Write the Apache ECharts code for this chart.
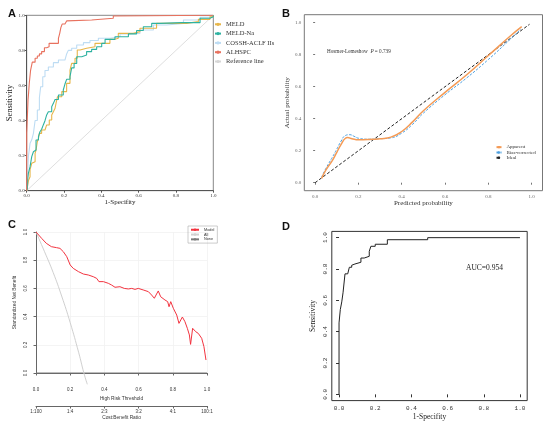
<!DOCTYPE html>
<html lang="en">
<head>
    <meta charset="utf-8">
    <title>ROC / calibration / DCA panels</title>
    <script src="https://cdn.jsdelivr.net/npm/echarts@6.0.0/dist/echarts.min.js"></script>
</head>
<body style="margin: 0; background: #fff">
    <div id="main" style="width: 550px; height: 425px"></div>
    <script type="text/javascript">

        // ---- panel A : ROC of four scores  [1-specificity, sensitivity]
        var meldRoc = [[0,0],[0.005,0.03],[0.01,0.06],[0.018,0.08],[0.018,0.12],[0.027,0.156],[0.036,0.165],[0.045,0.213],[0.05,0.232],
            [0.057,0.279],[0.063,0.298],[0.068,0.327],[0.08,0.346],[0.098,0.35],[0.107,0.375],[0.121,0.403],[0.134,0.432],[0.143,0.45],
            [0.152,0.47],[0.157,0.498],[0.161,0.517],[0.165,0.536],[0.188,0.565],[0.214,0.612],[0.232,0.688],[0.241,0.726],[0.259,0.755],
            [0.271,0.802],[0.286,0.812],[0.321,0.821],[0.366,0.84],[0.446,0.863],[0.473,0.869],[0.491,0.897],[0.571,0.907],[0.607,0.926],
            [0.696,0.954],[0.857,0.964],[0.92,0.977],[0.982,0.992],[1,1]];
        var meldNaRoc = [[0,0],[0.004,0.013],[0.005,0.06],[0.009,0.099],[0.018,0.137],[0.027,0.194],[0.036,0.222],[0.045,0.232],[0.05,0.289],
            [0.063,0.308],[0.071,0.336],[0.08,0.35],[0.089,0.375],[0.098,0.399],[0.107,0.432],[0.116,0.45],[0.134,0.479],[0.143,0.498],
            [0.152,0.52],[0.17,0.546],[0.196,0.574],[0.205,0.608],[0.214,0.635],[0.232,0.65],[0.241,0.7],[0.254,0.725],[0.268,0.764],
            [0.295,0.774],[0.321,0.793],[0.348,0.806],[0.375,0.821],[0.402,0.84],[0.42,0.863],[0.473,0.878],[0.545,0.894],[0.589,0.913],
            [0.625,0.935],[0.67,0.954],[0.714,0.958],[0.83,0.958],[0.929,0.983],[0.982,0.992],[1,1]];
        var cosshRoc = [[0,0],[0.005,0.1],[0.009,0.194],[0.018,0.27],[0.027,0.29],[0.036,0.327],[0.045,0.4],[0.057,0.46],[0.068,0.53],
            [0.075,0.593],[0.086,0.65],[0.098,0.685],[0.116,0.705],[0.143,0.73],[0.17,0.745],[0.205,0.755],[0.214,0.78],[0.223,0.8],
            [0.241,0.812],[0.268,0.831],[0.304,0.844],[0.339,0.856],[0.384,0.869],[0.446,0.878],[0.5,0.893],[0.536,0.897],[0.607,0.916],
            [0.679,0.945],[0.75,0.954],[0.84,0.973],[0.929,0.989],[0.98,0.992],[1,1]];
        var alhspcRoc = [[0,0],[0,0.327],[0.005,0.46],[0.007,0.517],[0.01,0.555],[0.014,0.615],[0.021,0.688],[0.03,0.733],[0.045,0.755],
            [0.057,0.768],[0.068,0.78],[0.08,0.793],[0.095,0.815],[0.107,0.821],[0.12,0.84],[0.17,0.869],[0.177,0.897],[0.183,0.93],
            [0.19,0.95],[0.205,0.958],[0.214,0.968],[0.223,0.973],[0.348,0.983],[0.464,0.996],[0.47,1],[1,1]];
        var referenceLine = [[0,0],[1,1]];

        // ---- panel B : calibration  [predicted, actual]
        var apparent = [[0.03,0.027],[0.05,0.08],[0.08,0.14],[0.1,0.19],[0.12,0.24],[0.14,0.278],[0.15,0.282],[0.17,0.275],[0.2,0.268],
            [0.25,0.27],[0.3,0.275],[0.35,0.285],[0.4,0.32],[0.45,0.38],[0.5,0.45],[0.6,0.565],[0.7,0.675],[0.8,0.795],[0.9,0.915],[0.954,0.975]];
        var biasCorrected = [[0.03,0.035],[0.05,0.09],[0.08,0.16],[0.1,0.21],[0.12,0.26],[0.14,0.295],[0.16,0.3],[0.18,0.29],[0.2,0.278],
            [0.25,0.272],[0.3,0.275],[0.35,0.28],[0.4,0.31],[0.45,0.365],[0.5,0.435],[0.6,0.55],[0.7,0.655],[0.8,0.77],[0.9,0.895],[0.95,0.96]];
        var ideal = [[0,0],[0.99,0.99]];

        // ---- panel C : decision curve  [threshold, standardized net benefit]
        var modelNb = [[0,1],[0.033,0.955],[0.06,0.92],[0.09,0.896],[0.12,0.889],[0.14,0.884],[0.16,0.86],[0.18,0.825],[0.2,0.766],
            [0.218,0.742],[0.248,0.719],[0.277,0.702],[0.306,0.695],[0.335,0.683],[0.355,0.671],[0.368,0.648],[0.394,0.648],[0.423,0.636],
            [0.442,0.624],[0.462,0.608],[0.491,0.612],[0.501,0.624],[0.516,0.6],[0.54,0.596],[0.56,0.6],[0.579,0.593],[0.598,0.6],
            [0.627,0.589],[0.657,0.577],[0.676,0.553],[0.692,0.53],[0.702,0.553],[0.715,0.582],[0.729,0.541],[0.754,0.518],[0.77,0.506],
            [0.778,0.47],[0.788,0.506],[0.803,0.459],[0.823,0.411],[0.836,0.352],[0.844,0.348],[0.856,0.397],[0.871,0.364],[0.885,0.317],
            [0.897,0.27],[0.904,0.203],[0.916,0.317],[0.934,0.293],[0.949,0.281],[0.969,0.246],[0.982,0.187],[0.994,0.092]];
        var allNb = [[0,1],[0.05,0.86],[0.1,0.714],[0.15,0.546],[0.2,0.357],[0.25,0.143],[0.28,0.0],[0.3,-0.08]];
        var noneNb = [[0,0],[1,0]];
        var costBenefitLabels = ['1:100', '1:4', '2:3', '3:2', '4:1', '100:1'];

        // ---- panel D : ROC of the model
        var modelRoc = [[0,0],[0,0.456],[0.007,0.541],[0.015,0.59],[0.022,0.648],[0.033,0.769],[0.048,0.781],[0.057,0.811],[0.07,0.824],
            [0.079,0.832],[0.088,0.843],[0.121,0.87],[0.139,0.881],[0.167,0.913],[0.176,0.945],[0.2,0.958],[0.267,0.987],[0.49,1],[1,1]];

        var probTicks = [0, 0.2, 0.4, 0.6, 0.8, 1.0];

        var SERIF = 'Liberation Serif';
        var SANS = 'Liberation Sans';

        var myChart = echarts.init(document.getElementById('main'));

        function fmt1(v) { return (+v).toFixed(1); }

        var option = {
            animation: false,
            backgroundColor: '#fff',
            title: [
                { text: 'A', left: 3, top: 3, textStyle: { fontSize: 11, fontWeight: 'bold', fontFamily: SANS, color: '#111' } },
                { text: 'B', left: 277, top: 3, textStyle: { fontSize: 11, fontWeight: 'bold', fontFamily: SANS, color: '#111' } },
                { text: 'C', left: 3, top: 214, textStyle: { fontSize: 11, fontWeight: 'bold', fontFamily: SANS, color: '#111' } },
                { text: 'D', left: 277, top: 216, textStyle: { fontSize: 11, fontWeight: 'bold', fontFamily: SANS, color: '#111' } },
                {
                    text: 'Hosmer-Lemeshow  {i|P} = 0.739', left: 322, top: 43.8,
                    textStyle: { fontSize: 5.2, fontWeight: 'normal', fontFamily: SERIF, color: '#333',
                        rich: { i: { fontSize: 5.2, fontStyle: 'italic', fontFamily: SERIF, color: '#333' } } }
                },
                { text: 'AUC=0.954', left: 461, top: 259, textStyle: { fontSize: 7.5, fontWeight: 'normal', fontFamily: SERIF, color: '#222' } }
            ],
            legend: [
                {
                    data: ['MELD', 'MELD-Na', 'COSSH-ACLF IIs', 'ALHSPC', 'Reference line'],
                    orient: 'vertical', left: 214, top: 20.8, padding: 0,
                    itemWidth: 6, itemHeight: 4, itemGap: 2.3,
                    lineStyle: { width: 2 },
                    textStyle: { fontSize: 6.5, lineHeight: 7, fontFamily: SERIF, color: '#333' }
                },
                {
                    data: ['Apparent', 'Bias-corrected', 'Ideal'],
                    orient: 'vertical', left: 495.5, top: 144.5, padding: 0,
                    itemWidth: 5, itemHeight: 3, itemGap: 0,
                    textStyle: { fontSize: 5, lineHeight: 5.3, fontFamily: SERIF, color: '#333' }
                },
                {
                    data: ['Model', 'All', 'None'],
                    orient: 'vertical', left: 188, top: 226, padding: [1.5, 3, 1.5, 2],
                    borderColor: '#999', borderWidth: 0.5,
                    itemWidth: 8, itemHeight: 3, itemGap: 0.3,
                    textStyle: { fontSize: 3.8, lineHeight: 4.5, fontFamily: SANS, color: '#333' }
                }
            ],
            grid: [
                { left: 26.7, top: 15.3, width: 186.6, height: 175.4, show: true, borderColor: '#888', borderWidth: 1 },
                { left: 304.3, top: 14.7, width: 238.2, height: 176, show: true, borderColor: '#777', borderWidth: 1 },
                { left: 36, top: 232, width: 171, height: 141 },
                { left: 331.8, top: 231.4, width: 195.4, height: 169.2, show: true, borderColor: '#333', borderWidth: 1 }
            ],
            xAxis: [
                {   // A
                    type: 'value', gridIndex: 0, position: 'bottom', min: 0, max: 1, interval: 0.2,
                    axisLine: { lineStyle: { color: '#555', width: 1 } },
                    axisTick: { length: 2, lineStyle: { color: '#555' } },
                    axisLabel: { fontSize: 5, margin: 2, fontFamily: SERIF, color: '#333', formatter: fmt1 },
                    splitLine: { show: false },
                    name: '1-Specifity', nameLocation: 'middle', nameGap: 7.5,
                    nameTextStyle: { fontSize: 7, fontFamily: SERIF, color: '#222' }
                },
                {   // B
                    type: 'value', gridIndex: 1, position: 'bottom', min: -0.05, max: 1.05,
                    axisLine: { show: false },
                    axisTick: { show: true, length: 2, customValues: probTicks, lineStyle: { color: '#777' } },
                    axisLabel: { fontSize: 5, margin: 3, customValues: probTicks, fontFamily: SERIF, color: '#666', formatter: fmt1 },
                    splitLine: { show: false },
                    name: 'Predicted probability', nameLocation: 'middle', nameGap: 7,
                    nameTextStyle: { fontSize: 7, fontFamily: SERIF, color: '#333' }
                },
                {   // C threshold
                    type: 'value', gridIndex: 2, position: 'bottom', min: 0, max: 1, interval: 0.2, offset: 11,
                    axisLine: { lineStyle: { color: '#666', width: 1 } },
                    axisTick: { length: 2.5, lineStyle: { color: '#666' } },
                    axisLabel: { fontSize: 4.5, margin: 3, fontFamily: SANS, color: '#333', formatter: fmt1 },
                    splitLine: { show: true, lineStyle: { color: '#f1f1f1', width: 0.8 } },
                    name: 'High Risk Threshold', nameLocation: 'middle', nameGap: 12,
                    nameTextStyle: { fontSize: 4.8, fontFamily: SANS, color: '#333' }
                },
                {   // C cost:benefit
                    type: 'value', gridIndex: 2, position: 'bottom', min: 0, max: 1, interval: 0.2, offset: 33,
                    axisLine: { lineStyle: { color: '#666', width: 1 } },
                    axisTick: { length: 2.5, lineStyle: { color: '#666' } },
                    axisLabel: { fontSize: 4.5, margin: 3, fontFamily: SANS, color: '#333',
                        formatter: function (v, i) { return costBenefitLabels[i]; } },
                    splitLine: { show: false },
                    name: 'Cost:Benefit Ratio', nameLocation: 'middle', nameGap: 9.5,
                    nameTextStyle: { fontSize: 4.8, fontFamily: SANS, color: '#333' }
                },
                {   // D
                    type: 'value', gridIndex: 3, position: 'bottom', min: -0.04, max: 1.04,
                    axisLine: { show: false },
                    axisTick: { show: true, length: 3, customValues: probTicks, lineStyle: { color: '#333' } },
                    axisLabel: { fontSize: 6, margin: 5, customValues: probTicks, fontFamily: 'Liberation Mono', color: '#333', formatter: fmt1 },
                    splitLine: { show: false },
                    name: '1-Specifity', nameLocation: 'middle', nameGap: 12,
                    nameTextStyle: { fontSize: 7.5, fontFamily: SERIF, color: '#222' }
                }
            ],
            yAxis: [
                {   // A
                    type: 'value', gridIndex: 0, position: 'left', min: 0, max: 1, interval: 0.2,
                    axisLine: { show: true, lineStyle: { color: '#555', width: 1 } },
                    axisTick: { show: true, length: 2, lineStyle: { color: '#555' } },
                    axisLabel: { fontSize: 5, margin: 2, fontFamily: SERIF, color: '#333', formatter: fmt1 },
                    splitLine: { show: false },
                    name: 'Sensitivity', nameLocation: 'middle', nameGap: 11,
                    nameTextStyle: { fontSize: 8.5, fontFamily: SERIF, color: '#222' }
                },
                {   // B
                    type: 'value', gridIndex: 1, position: 'left', min: -0.05, max: 1.05,
                    axisLine: { show: false },
                    axisTick: { show: true, length: 2, customValues: probTicks, lineStyle: { color: '#777' } },
                    axisLabel: { fontSize: 5, margin: 3, customValues: probTicks, fontFamily: SERIF, color: '#666', formatter: fmt1 },
                    splitLine: { show: false },
                    name: 'Actual probability', nameLocation: 'middle', nameGap: 10,
                    nameTextStyle: { fontSize: 7, fontFamily: SERIF, color: '#333' }
                },
                {   // C
                    type: 'value', gridIndex: 2, position: 'left', min: 0, max: 1, interval: 0.2, offset: 5,
                    axisLine: { show: true, lineStyle: { color: '#666', width: 1 } },
                    axisTick: { show: true, length: 2.5, lineStyle: { color: '#666' } },
                    axisLabel: { fontSize: 4.5, margin: 3, rotate: 90, fontFamily: SANS, color: '#333', formatter: fmt1 },
                    splitLine: { show: true, lineStyle: { color: '#f1f1f1', width: 0.8 } },
                    name: 'Standardized Net Benefit', nameLocation: 'middle', nameGap: 14,
                    nameTextStyle: { fontSize: 4.8, fontFamily: SANS, color: '#333' }
                },
                {   // D
                    type: 'value', gridIndex: 3, position: 'left', min: -0.04, max: 1.04,
                    axisLine: { show: false },
                    axisTick: { show: true, length: 3, customValues: probTicks, lineStyle: { color: '#333' } },
                    axisLabel: { fontSize: 6, margin: 3, rotate: 90, customValues: probTicks, fontFamily: 'Liberation Mono', color: '#333', formatter: fmt1 },
                    splitLine: { show: false },
                    name: 'Sensitivity', nameLocation: 'middle', nameGap: 15,
                    nameTextStyle: { fontSize: 7.5, fontFamily: SERIF, color: '#222' }
                }
            ],
            series: [
                // A
                { name: 'Reference line', type: 'line', xAxisIndex: 0, yAxisIndex: 0, symbol: 'none', data: referenceLine,
                  lineStyle: { color: '#d6d6d6', width: 0.8 }, itemStyle: { color: '#d6d6d6' } },
                { name: 'COSSH-ACLF IIs', type: 'line', xAxisIndex: 0, yAxisIndex: 0, symbol: 'none', step: 'end', data: cosshRoc,
                  lineStyle: { color: '#bddcf3', width: 1.1 }, itemStyle: { color: '#bddcf3' } },
                { name: 'MELD', type: 'line', xAxisIndex: 0, yAxisIndex: 0, symbol: 'none', step: 'end', data: meldRoc,
                  lineStyle: { color: '#e7b64a', width: 1.1 }, itemStyle: { color: '#e7b64a' } },
                { name: 'MELD-Na', type: 'line', xAxisIndex: 0, yAxisIndex: 0, symbol: 'none', step: 'end', data: meldNaRoc,
                  lineStyle: { color: '#2eb2a1', width: 1.1 }, itemStyle: { color: '#2eb2a1' } },
                { name: 'ALHSPC', type: 'line', xAxisIndex: 0, yAxisIndex: 0, symbol: 'none', step: 'end', data: alhspcRoc,
                  lineStyle: { color: '#e8715e', width: 1.1 }, itemStyle: { color: '#e8715e' } },
                // B
                { name: 'Ideal', type: 'line', xAxisIndex: 1, yAxisIndex: 1, symbol: 'none', data: ideal,
                  lineStyle: { color: '#222', width: 1, type: [3, 2] }, itemStyle: { color: '#222' } },
                { name: 'Bias-corrected', type: 'line', xAxisIndex: 1, yAxisIndex: 1, symbol: 'none', smooth: true, data: biasCorrected,
                  lineStyle: { color: '#4b9fe0', width: 1, type: [2.5, 1.5] }, itemStyle: { color: '#4b9fe0' } },
                { name: 'Apparent', type: 'line', xAxisIndex: 1, yAxisIndex: 1, symbol: 'none', smooth: true, data: apparent,
                  lineStyle: { color: '#f49a55', width: 1.5 }, itemStyle: { color: '#f49a55' } },
                // C
                { name: 'None', type: 'line', xAxisIndex: 2, yAxisIndex: 2, symbol: 'none', data: noneNb,
                  lineStyle: { color: '#7a7a7a', width: 1 }, itemStyle: { color: '#7a7a7a' } },
                { name: 'All', type: 'line', xAxisIndex: 2, yAxisIndex: 2, symbol: 'none', smooth: true, clip: false, data: allNb,
                  lineStyle: { color: '#d0d0d0', width: 1 }, itemStyle: { color: '#d0d0d0' } },
                { name: 'Model', type: 'line', xAxisIndex: 2, yAxisIndex: 2, symbol: 'none', data: modelNb,
                  lineStyle: { color: '#f2333f', width: 1 }, itemStyle: { color: '#f2333f' } },
                // D
                { name: 'ROC', type: 'line', xAxisIndex: 4, yAxisIndex: 3, symbol: 'none', step: 'end', data: modelRoc,
                  lineStyle: { color: '#222', width: 1 }, itemStyle: { color: '#222' } }
            ]
        };

        myChart.setOption(option);
    </script>
</body>
</html>
